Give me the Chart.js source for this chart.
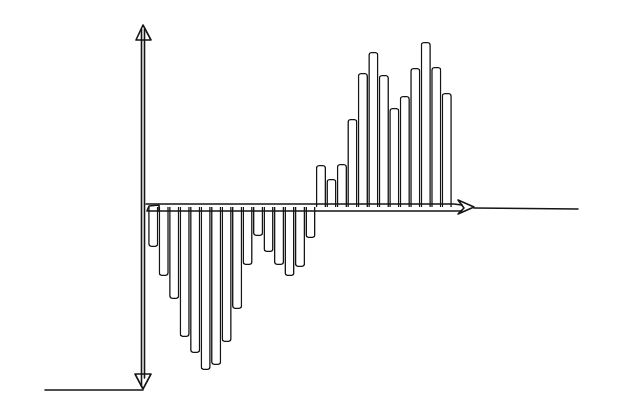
<!DOCTYPE html>
<html><head><meta charset="utf-8">
<script src="https://cdn.jsdelivr.net/npm/chart.js@4/dist/chart.umd.min.js"></script>
<style>html,body{margin:0;padding:0;background:#fff;}canvas{display:block;}</style>
</head><body>
<canvas id="c" width="626" height="417"></canvas>
<script>
const categories = Array.from({length: 29}, (_, i) => 'B' + (i + 1));
const values = [-4.0, -6.9, -9.2, -13.0, -14.6, -16.3, -15.8, -13.5, -10.2, -5.8, -2.9, -4.5, -5.8, -6.9, -6.0, -3.1,
  4.2, 2.8, 4.3, 8.8, 13.4, 15.5, 13.2, 9.9, 11.1, 13.9, 16.5, 14.0, 11.4];
const yMin = -18.3, yMax = 18.2;

const axesPlugin = {
  id: 'sketchAxes',
  afterDatasetsDraw(chart) {
    const ctx = chart.ctx;
    const y0 = chart.scales.y.getPixelForValue(0);
    const top = chart.chartArea.top, bottom = chart.chartArea.bottom;
    const ax = chart.chartArea.left - 5;
    ctx.save();
    ctx.strokeStyle = '#151515';
    ctx.lineWidth = 1.6;
    ctx.lineJoin = 'round'; ctx.lineCap = 'round';
    ctx.beginPath();
    ctx.moveTo(ax - 1.5, top + 4); ctx.lineTo(ax - 1.5, bottom - 4);
    ctx.moveTo(ax + 1.5, top + 4); ctx.lineTo(ax + 1.5, bottom - 12);
    ctx.stroke();
    ctx.beginPath();
    ctx.moveTo(ax, top); ctx.lineTo(ax - 7, top + 15); ctx.lineTo(ax + 8, top + 15); ctx.closePath();
    ctx.stroke();
    ctx.beginPath();
    ctx.moveTo(ax, bottom - 1); ctx.lineTo(ax - 8, bottom - 16); ctx.lineTo(ax + 8, bottom - 16); ctx.closePath();
    ctx.stroke();
    ctx.beginPath();
    ctx.moveTo(45, bottom); ctx.lineTo(ax, bottom);
    ctx.stroke();
    ctx.beginPath();
    ctx.moveTo(ax + 3, y0 - 3); ctx.lineTo(chart.chartArea.right + 2, y0 - 3);
    ctx.lineTo(chart.chartArea.right + 10, y0 - 2);
    ctx.moveTo(ax + 5, y0 + 4); ctx.lineTo(chart.chartArea.right + 10, y0 + 4);
    ctx.stroke();
    ctx.beginPath();
    ctx.moveTo(ax + 4, y0 + 4); ctx.lineTo(ax + 6, y0 - 1); ctx.lineTo(ax + 16, y0 - 2); ctx.lineTo(ax + 16, y0 + 4);
    ctx.stroke();
    const ar = chart.chartArea.right + 22;
    ctx.beginPath();
    ctx.moveTo(ar - 16, y0 - 7); ctx.lineTo(ar, y0); ctx.lineTo(ar - 16, y0 + 7); ctx.lineTo(ar - 10, y0 + 1); ctx.closePath();
    ctx.stroke();
    ctx.beginPath();
    ctx.moveTo(ar, y0 + 1); ctx.lineTo(578, y0 + 2);
    ctx.stroke();
    ctx.restore();
  }
};

new Chart(document.getElementById('c'), {
  type: 'bar',
  data: {
    labels: categories,
    datasets: [{
      data: values,
      backgroundColor: 'rgba(255,255,255,1)',
      borderColor: '#151515',
      borderWidth: 1.6,
      borderRadius: 3,
      borderSkipped: 'start',
      categoryPercentage: 1.0,
      barPercentage: 0.97
    }]
  },
  options: {
    responsive: false,
    animation: false,
    events: [],
    layout: { padding: { left: 148, right: 174, top: 25, bottom: 27 } },
    plugins: { legend: { display: false }, tooltip: { enabled: false } },
    scales: {
      x: { display: false, grid: { display: false } },
      y: { display: false, min: yMin, max: yMax, grid: { display: false } }
    }
  },
  plugins: [axesPlugin]
});
</script>
</body></html>
